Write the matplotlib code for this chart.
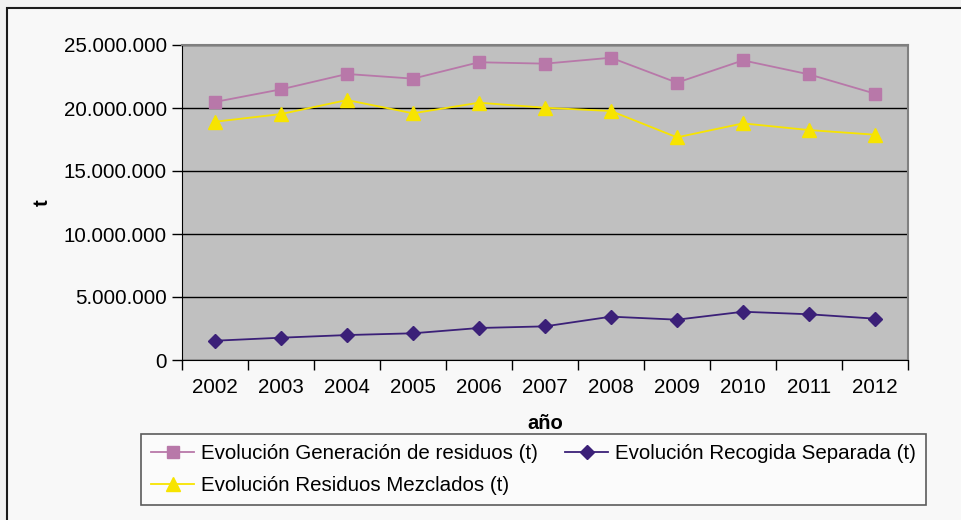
import matplotlib
matplotlib.use("Agg")
import matplotlib.pyplot as plt
import matplotlib.patches as patches
from matplotlib.ticker import FuncFormatter, FixedLocator

# data (tonnes)
years = ["2002", "2003", "2004", "2005", "2006", "2007", "2008", "2009", "2010", "2011", "2012"]
generacion = [20480000, 21480000, 22700000, 22330000, 23630000, 23520000,
              23990000, 22010000, 23780000, 22670000, 21140000]
mezclados = [18910000, 19520000, 20630000, 19580000, 20420000, 20020000,
             19760000, 17670000, 18780000, 18250000, 17880000]
recogida = [1530000, 1770000, 1980000, 2120000, 2540000, 2670000,
            3440000, 3200000, 3830000, 3630000, 3280000]
labels = ["Evolución Generación de residuos (t)",
          "Evolución Recogida Separada (t)",
          "Evolución Residuos Mezclados (t)"]

plt.rcParams['font.family'] = ['Liberation Sans', 'DejaVu Sans']
FS = 14.8

fig = plt.figure(figsize=(9.61, 5.2), dpi=100)
fig.patch.set_facecolor('#f1f1f1')

# outer chart frame (runs off the right and bottom edges)
W, H = 961, 520
frame = patches.Rectangle((7 / W, -0.1), 1.2, (520 - 8) / H + 0.1,
                          transform=fig.transFigure, facecolor='#f8f8f8',
                          edgecolor='#1a1a1a', linewidth=1.5, zorder=-5)
fig.patches.append(frame)

ax = fig.add_axes([182 / W, (520 - 360) / H, (908 - 182) / W, (360 - 45) / H])
ax.set_facecolor('#c0c0c0')

x = list(range(len(years)))
l1, = ax.plot(x, generacion, color='#b878a9', lw=1.3, marker='s', ms=8.5,
              markeredgecolor='#b878a9', zorder=3)
l2, = ax.plot(x, recogida, color='#3b2078', lw=1.3, marker='D', ms=7.5,
              markeredgecolor='#3b2078', zorder=3)
l3, = ax.plot(x, mezclados, color='#f7e400', lw=1.3, marker='^', ms=10,
              markeredgecolor='#f7e400', zorder=3)

ax.set_xlim(-0.5, len(years) - 0.5)
ax.set_ylim(0, 25000000)
ax.set_yticks([0, 5000000, 10000000, 15000000, 20000000, 25000000])
ax.yaxis.set_major_formatter(FuncFormatter(lambda v, p: f"{int(v):,}".replace(",", ".")))
ax.grid(axis='y', color='black', lw=1)
ax.set_axisbelow(True)

ax.set_xticks(x)
ax.set_xticklabels(years)
ax.xaxis.set_minor_locator(FixedLocator([i - 0.5 for i in range(len(years) + 1)]))
ax.tick_params(axis='x', which='major', length=0, labelsize=FS, pad=13)
ax.tick_params(axis='x', which='minor', length=7, width=1, direction='out')
ax.tick_params(axis='y', length=7, width=1, labelsize=FS, pad=4)

for s in ['top', 'right']:
    ax.spines[s].set_color('#808080')
    ax.spines[s].set_linewidth(1.5)
ax.spines['left'].set_color('black')
ax.spines['bottom'].set_color('black')

ax.set_xlabel("año", fontsize=14.5, fontweight='bold', labelpad=12)
ax.set_ylabel("t", fontsize=14.5, fontweight='bold')
ax.yaxis.set_label_coords(-0.18, 0.5)

leg = fig.legend([l1, l3, l2], [labels[0], labels[2], labels[1]], ncol=2,
                 loc='upper left', bbox_to_anchor=(141 / W, (520 - 434) / H),
                 fontsize=FS, frameon=True, fancybox=False, borderaxespad=0,
                 handlelength=2.1, handletextpad=0.3, columnspacing=1.35,
                 labelspacing=0.62, borderpad=0.5)
leg.get_frame().set_edgecolor('#333333')
leg.get_frame().set_facecolor('#fdfdfd')
leg.get_frame().set_linewidth(1.2)

fig.savefig("out.png", dpi=100, facecolor=fig.get_facecolor())
